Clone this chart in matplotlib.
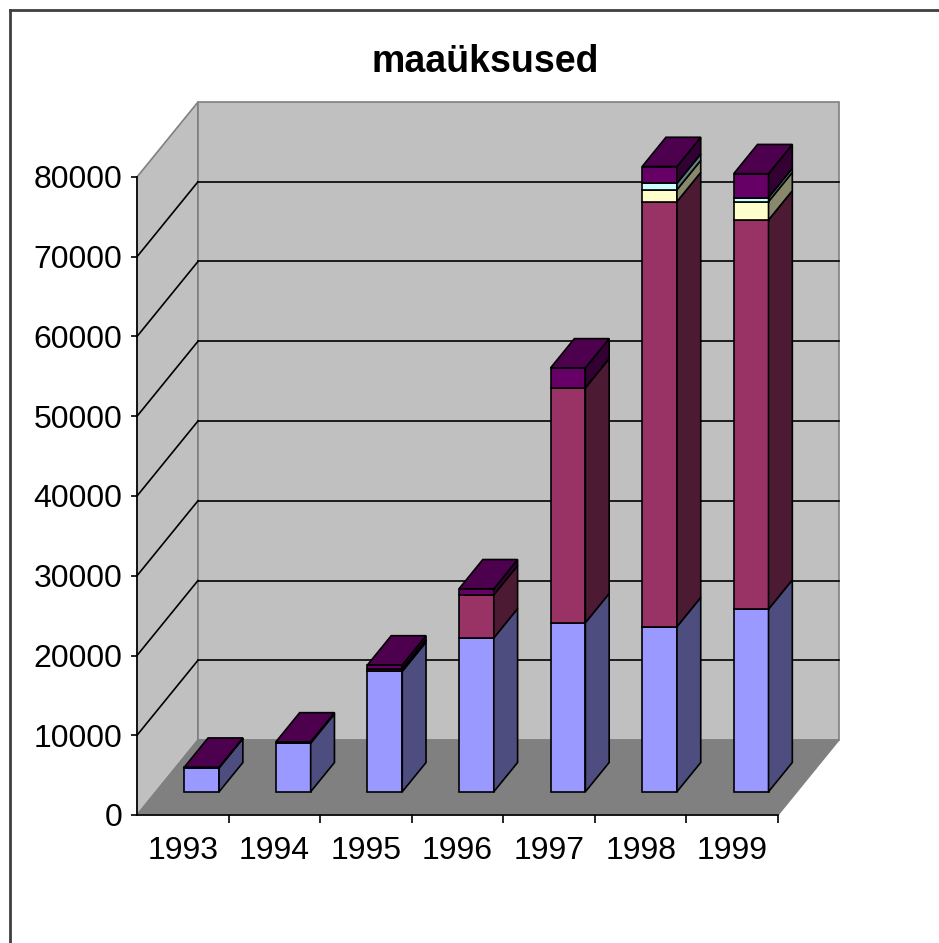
import matplotlib
matplotlib.use("Agg")
from matplotlib import pyplot as plt
from matplotlib.patches import Polygon
from matplotlib.lines import Line2D

plt.rcParams['font.family'] = ['Liberation Sans', 'DejaVu Sans']

# data
years = ["1993", "1994", "1995", "1996", "1997", "1998", "1999"]
s1 = [3000, 6100, 15100, 19300, 21200, 20700, 22900]
s2 = [0, 0, 300, 5400, 29450, 53300, 48800]
s3 = [0, 0, 0, 0, 0, 1500, 2300]
s4 = [0, 0, 0, 0, 0, 800, 500]
s5 = [80, 150, 500, 750, 2500, 2100, 3000]
series = [s1, s2, s3, s4, s5]

# front, side, top colours per series (excel default palette)
front_cols = ["#9999FF", "#993366", "#FFFFCC", "#CCFFFF", "#660066"]
side_cols = ["#4D4D80", "#4D1A33", "#88886C", "#5F8080", "#330033"]
top_cols = ["#7373C0", "#73264D", "#C0C099", "#99C0C0", "#4D004D"]

W, H = 939, 943
YMAX = 80000
n = len(years)

fig = plt.figure(figsize=(W / 100, H / 100), dpi=100)
fig.patch.set_facecolor("white")

# axes = front plane of the 3d box
ax = fig.add_axes([137 / W, 1 - 815 / H, (778 - 137) / W, (815 - 177) / H])
ax.set_xlim(0, n)
ax.set_ylim(0, YMAX)
ax.patch.set_visible(False)

# depth offset of the back wall in data units
DX = 61 / ((778 - 137) / n)
DY = 75 / ((815 - 177) / YMAX)


def poly(pts, fc, z, ec="black", lw=1.2):
    p = Polygon(pts, closed=True, facecolor=fc, edgecolor=ec, linewidth=lw,
                zorder=z, clip_on=False, joinstyle="miter")
    ax.add_patch(p)


def line(xs, ys, c="black", lw=1.2, z=1.5):
    ax.add_line(Line2D(xs, ys, color=c, linewidth=lw, zorder=z, clip_on=False))


# walls and floor
poly([(0, 0), (DX, DY), (DX, YMAX + DY), (0, YMAX)], "#C0C0C0", 1, ec="#808080", lw=1.2)
poly([(DX, DY), (n + DX, DY), (n + DX, YMAX + DY), (DX, YMAX + DY)], "#C0C0C0", 1, ec="#808080", lw=1.2)
poly([(0, 0), (n, 0), (n + DX, DY), (DX, DY)], "#808080", 1.1, ec="#808080", lw=1.0)

for v in range(10000, YMAX, 10000):
    line([DX, n + DX], [v + DY, v + DY])
    line([0, DX], [v, v + DY])

# bars
d0, d1 = 0.31, 0.70
bw = 0.38
for i in range(n):
    x0 = i + 0.5 - bw / 2 + d0 * DX
    x1 = x0 + bw
    ox, oy = (d1 - d0) * DX, (d1 - d0) * DY
    base = d0 * DY
    top_k = max(k for k in range(len(series)) if series[k][i] > 0)
    for k, s in enumerate(series):
        v = s[i]
        if v <= 0:
            continue
        y0, y1 = base, base + v
        poly([(x0, y0), (x1, y0), (x1, y1), (x0, y1)], front_cols[k], 3)
        poly([(x1, y0), (x1 + ox, y0 + oy), (x1 + ox, y1 + oy), (x1, y1)], side_cols[k], 3)
        if k == top_k:
            poly([(x0, y1), (x1, y1), (x1 + ox, y1 + oy), (x0 + ox, y1 + oy)], top_cols[k], 3)
        base = y1

# axes, ticks, labels
for sp in ["top", "right"]:
    ax.spines[sp].set_visible(False)
for sp in ["left", "bottom"]:
    ax.spines[sp].set_linewidth(1.2)
    ax.spines[sp].set_zorder(2)

ax.set_yticks(range(0, YMAX + 1, 10000))
ax.set_yticklabels([str(v) for v in range(0, YMAX + 1, 10000)])
ax.tick_params(axis="y", length=4.5, width=1.2, pad=6, labelsize=23)

ax.set_xticks(range(1, n + 1))
ax.set_xticklabels([])
ax.set_xticks([i + 0.5 for i in range(n)], minor=True)
ax.set_xticklabels(years, minor=True)
ax.tick_params(axis="x", which="major", length=6, width=1.2)
ax.tick_params(axis="x", which="minor", length=0, pad=15, labelsize=23)

fig.text(485 / W, 1 - 62 / H, "maaüksused", ha="center", va="center",
         fontsize=27, fontweight="bold")

# outer chart border
fig.add_artist(Line2D([10 / W, 10 / W], [1 - 10 / H, 0], transform=fig.transFigure,
                      color="#404040", linewidth=2))
fig.add_artist(Line2D([10 / W, 1], [1 - 10 / H, 1 - 10 / H], transform=fig.transFigure,
                      color="#404040", linewidth=2))

fig.savefig("out.png", dpi=100)
